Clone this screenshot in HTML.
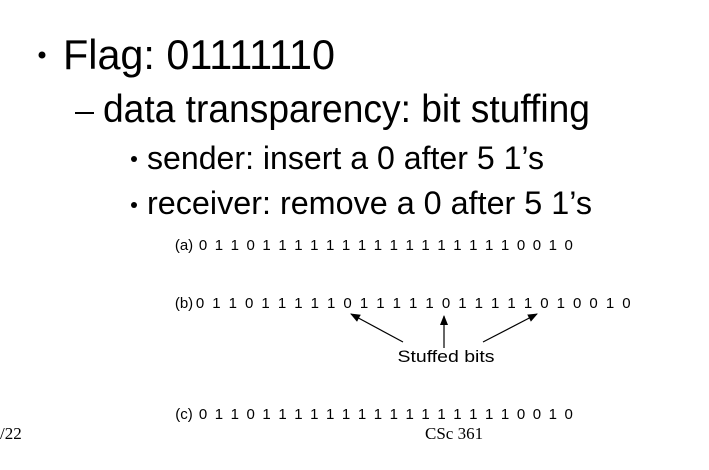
<!DOCTYPE html>
<html><head><meta charset="utf-8"><style>
html,body{margin:0;padding:0;background:#fff;}
svg{display:block;}
</style></head><body>
<svg width="709" height="470" viewBox="0 0 709 470" xmlns="http://www.w3.org/2000/svg" font-family="Liberation Sans, Arial, sans-serif">
<defs><marker id="ah" markerWidth="10" markerHeight="8" refX="9" refY="4" orient="auto" markerUnits="userSpaceOnUse"><path d="M0,0 L10,4 L0,8 z" fill="#000"/></marker></defs>
<circle cx="42" cy="55" r="3.5" fill="#000"/>
<text x="63" y="69" font-size="42" textLength="272" lengthAdjust="spacingAndGlyphs">Flag: 01111110</text>
<rect x="75" y="112" width="19" height="2" fill="#000"/>
<text x="103" y="122" font-size="39" textLength="487" lengthAdjust="spacingAndGlyphs">data transparency: bit stuffing</text>
<circle cx="134" cy="159" r="3" fill="#000"/>
<text x="147" y="169" font-size="32" textLength="397" lengthAdjust="spacingAndGlyphs">sender: insert a 0 after 5 1’s</text>
<circle cx="134" cy="205" r="3" fill="#000"/>
<text x="147" y="214" font-size="32" textLength="445" lengthAdjust="spacingAndGlyphs">receiver: remove a 0 after 5 1’s</text>
<g font-size="15" text-anchor="middle">
<text x="184" y="250">(a)</text>
<text x="184" y="308">(b)</text>
<text x="184" y="419">(c)</text>
</g>
<text x="446" y="362" font-size="17" text-anchor="middle" textLength="97" lengthAdjust="spacingAndGlyphs">Stuffed bits</text>
<g stroke="#000" stroke-width="1.2" fill="none">
<line x1="403" y1="342" x2="351" y2="314" marker-end="url(#ah)"/>
<line x1="444" y1="348" x2="444" y2="316" marker-end="url(#ah)"/>
<line x1="483" y1="342" x2="537" y2="314" marker-end="url(#ah)"/>
</g>
<text x="0" y="439" font-size="17" font-family="Liberation Serif, serif">/22</text>
<text x="425" y="439" font-size="17" font-family="Liberation Serif, serif">CSc 361</text>
<g font-size="15" text-anchor="middle">
<text y="250"><tspan x="203">0</tspan><tspan x="218.9">1</tspan><tspan x="234.8">1</tspan><tspan x="250.7">0</tspan><tspan x="266.6">1</tspan><tspan x="282.5">1</tspan><tspan x="298.4">1</tspan><tspan x="314.3">1</tspan><tspan x="330.2">1</tspan><tspan x="346.1">1</tspan><tspan x="362">1</tspan><tspan x="377.9">1</tspan><tspan x="393.8">1</tspan><tspan x="409.7">1</tspan><tspan x="425.6">1</tspan><tspan x="441.5">1</tspan><tspan x="457.4">1</tspan><tspan x="473.3">1</tspan><tspan x="489.2">1</tspan><tspan x="505.1">1</tspan><tspan x="521">0</tspan><tspan x="536.9">0</tspan><tspan x="552.8">1</tspan><tspan x="568.7">0</tspan></text>
<text y="308"><tspan x="200">0</tspan><tspan x="216.4">1</tspan><tspan x="232.8">1</tspan><tspan x="249.2">0</tspan><tspan x="265.6">1</tspan><tspan x="282">1</tspan><tspan x="298.4">1</tspan><tspan x="314.8">1</tspan><tspan x="331.2">1</tspan><tspan x="347.6">0</tspan><tspan x="364">1</tspan><tspan x="380.4">1</tspan><tspan x="396.8">1</tspan><tspan x="413.2">1</tspan><tspan x="429.6">1</tspan><tspan x="446">0</tspan><tspan x="462.4">1</tspan><tspan x="478.8">1</tspan><tspan x="495.2">1</tspan><tspan x="511.6">1</tspan><tspan x="528">1</tspan><tspan x="544.4">0</tspan><tspan x="560.8">1</tspan><tspan x="577.2">0</tspan><tspan x="593.6">0</tspan><tspan x="610">1</tspan><tspan x="626.4">0</tspan></text>
<text y="419"><tspan x="203">0</tspan><tspan x="218.9">1</tspan><tspan x="234.8">1</tspan><tspan x="250.7">0</tspan><tspan x="266.6">1</tspan><tspan x="282.5">1</tspan><tspan x="298.4">1</tspan><tspan x="314.3">1</tspan><tspan x="330.2">1</tspan><tspan x="346.1">1</tspan><tspan x="362">1</tspan><tspan x="377.9">1</tspan><tspan x="393.8">1</tspan><tspan x="409.7">1</tspan><tspan x="425.6">1</tspan><tspan x="441.5">1</tspan><tspan x="457.4">1</tspan><tspan x="473.3">1</tspan><tspan x="489.2">1</tspan><tspan x="505.1">1</tspan><tspan x="521">0</tspan><tspan x="536.9">0</tspan><tspan x="552.8">1</tspan><tspan x="568.7">0</tspan></text>
</g>
</svg>
</body></html>
